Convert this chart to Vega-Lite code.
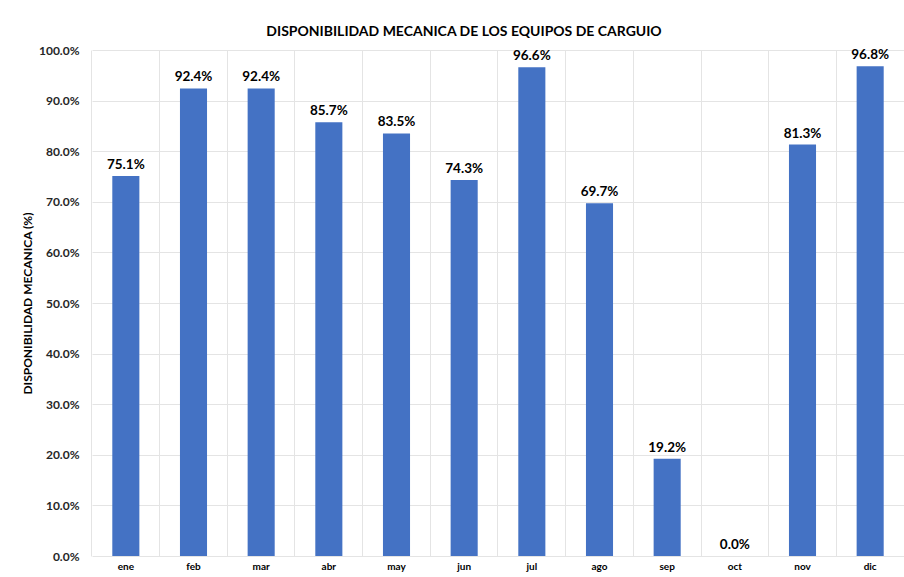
{
  "$schema": "https://vega.github.io/schema/vega-lite/v6.json",
  "width": 812,
  "height": 506,
  "autosize": {"type": "none"},
  "padding": {"left": 92, "top": 50, "right": 0, "bottom": 21},
  "background": "white",
  "title": {
    "text": "DISPONIBILIDAD MECANICA DE LOS EQUIPOS DE CARGUIO",
    "font": "Lato",
    "fontSize": 14,
    "fontWeight": "bold",
    "color": "#000000",
    "anchor": "middle",
    "dx": -34,
    "offset": 5
  },
  "config": {
    "view": {"stroke": null},
    "axis": {"labelFont": "Lato", "titleFont": "Lato"}
  },
  "data": {
    "values": [
      {"mes": "ene", "valor": 0.751},
      {"mes": "feb", "valor": 0.924},
      {"mes": "mar", "valor": 0.924},
      {"mes": "abr", "valor": 0.857},
      {"mes": "may", "valor": 0.835},
      {"mes": "jun", "valor": 0.743},
      {"mes": "jul", "valor": 0.966},
      {"mes": "ago", "valor": 0.697},
      {"mes": "sep", "valor": 0.192},
      {"mes": "oct", "valor": 0.0},
      {"mes": "nov", "valor": 0.813},
      {"mes": "dic", "valor": 0.968}
    ]
  },
  "encoding": {
    "x": {
      "field": "mes",
      "type": "nominal",
      "sort": null,
      "scale": {"paddingInner": 0.6, "paddingOuter": 0.3}
    },
    "y": {
      "field": "valor",
      "type": "quantitative",
      "scale": {"domain": [0, 1]}
    }
  },
  "layer": [
    {
      "mark": {"type": "bar", "color": "#4472C4"},
      "encoding": {
        "x": {
          "field": "mes",
          "type": "nominal",
          "sort": null,
          "axis": {
            "title": null,
            "orient": "top",
            "labels": false,
            "ticks": false,
            "domain": false,
            "grid": true,
            "bandPosition": -0.75,
            "gridColor": "#e4e4e4",
            "gridWidth": 1
          }
        },
        "y": {
          "field": "valor",
          "type": "quantitative",
          "axis": {
            "title": "DISPONIBILIDAD MECANICA (%)",
            "titleFontSize": 12,
            "titleFontWeight": "bold",
            "titleColor": "#000000",
            "titlePadding": 4,
            "format": ".1%",
            "values": [0, 0.1, 0.2, 0.3, 0.4, 0.5, 0.6, 0.7, 0.8, 0.9, 1.0],
            "labelOverlap": false,
            "labelFontSize": 12,
            "labelFontWeight": "bold",
            "labelColor": "#262626",
            "labelPadding": 13,
            "ticks": false,
            "domain": false,
            "grid": true,
            "gridColor": "#e4e4e4"
          }
        }
      }
    },
    {
      "mark": {
        "type": "text",
        "font": "Lato",
        "fontSize": 13.5,
        "fontWeight": "bold",
        "color": "#000000",
        "baseline": "bottom",
        "dy": -4
      },
      "encoding": {
        "x": {
          "field": "mes",
          "type": "nominal",
          "sort": null,
          "axis": {
            "title": null,
            "orient": "bottom",
            "labelAngle": 0,
            "labelFontSize": 10,
            "labelFontWeight": "bold",
            "labelColor": "#000000",
            "labelPadding": 5,
            "ticks": false,
            "domain": false,
            "grid": false
          }
        },
        "text": {"field": "valor", "type": "quantitative", "format": ".1%"}
      }
    }
  ],
  "resolve": {"axis": {"x": "independent"}}
}
